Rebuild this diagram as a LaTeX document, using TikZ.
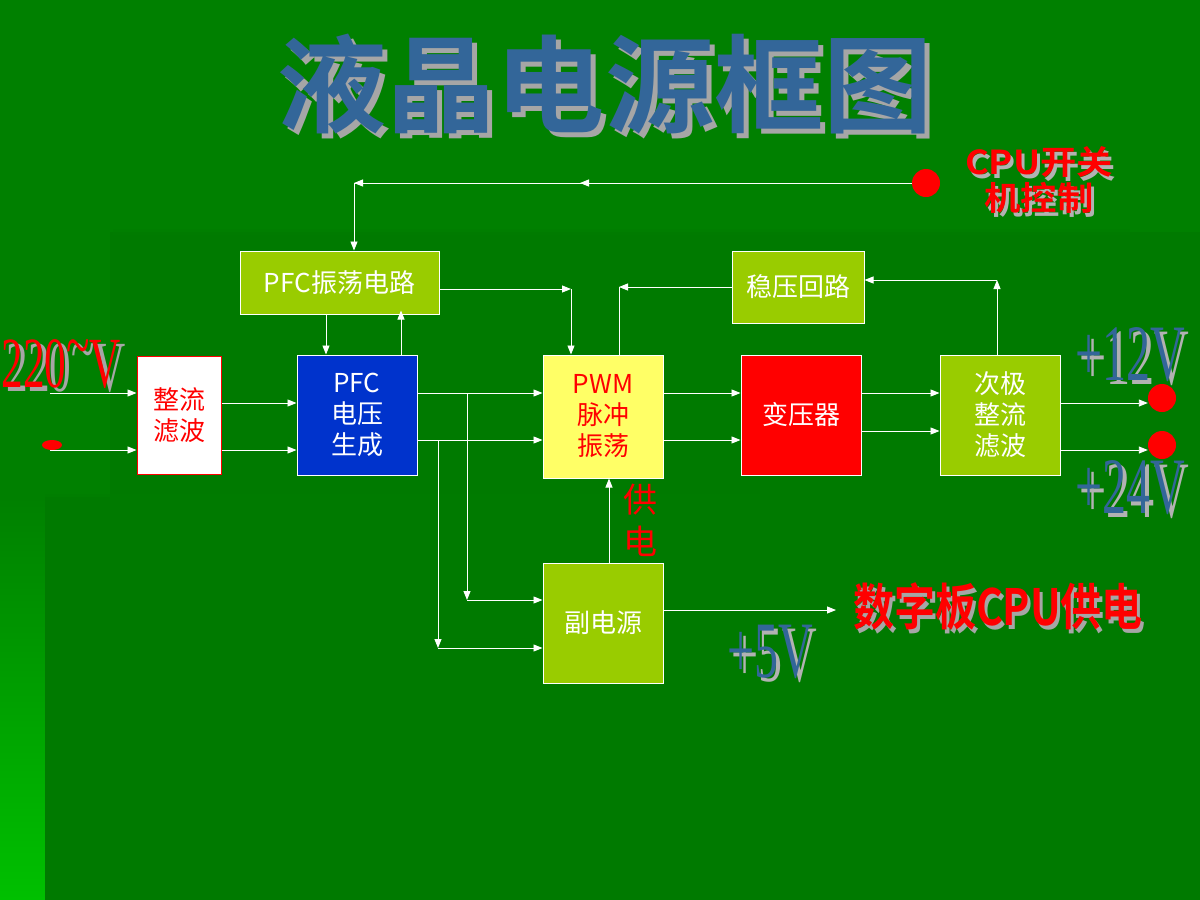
\documentclass[tikz,border=0pt]{standalone}
\usepackage{fontspec}
\setmainfont{Noto Sans CJK SC}
\newfontfamily\serif{Liberation Serif}
\newfontfamily\cjkb{Noto Sans CJK SC}[BoldFont={* Bold}]
\usetikzlibrary{arrows.meta}
\definecolor{bg}{HTML}{008000}
\definecolor{inner}{HTML}{007A00}
\definecolor{lime}{HTML}{99CC00}
\definecolor{pfcblue}{HTML}{0033CC}
\definecolor{pwmy}{HTML}{FFFF66}
\definecolor{steel}{HTML}{336699}
\definecolor{bright}{HTML}{00C000}
\begin{document}
\begin{tikzpicture}[x=1pt,y=-1pt,
  blk/.style={draw=white,line width=1pt,minimum width=120pt,minimum height=120pt,inner sep=0pt,font=\fontsize{26}{31}\selectfont,align=center,text=white},
  ar/.style={draw=white,line width=0.9pt,-{Triangle[length=9pt,width=7pt]}},
  ln/.style={draw=white,line width=0.9pt},
  dot/.style={circle,fill=red,minimum size=28pt,inner sep=0pt}]
\useasboundingbox (0,0) rectangle (1200,900);
\fill[bg] (0,0) rectangle (1200,900);
\shade[top color=bg,bottom color=bright] (0,497) rectangle (45,900);
\fill[inner] (110,232) rectangle (1200,900);
\fill[inner] (45,497) rectangle (110,900);
\fill[black!30!green!70!black,opacity=0.5] (113,229) rectangle (1130,235);
\fill[black!30!green!70!black,opacity=0.5] (45,494) rectangle (760,500);
% title
\tikzset{tf/.style={font=\cjkb\bfseries\fontsize{106}{110}\selectfont}}
\node[tf,text=gray!70] at (610,89) {\scalebox{1.03}[1]{液晶电源框图}};
\node[tf,text=steel] (title) at (605,84) {\scalebox{1.03}[1]{液晶电源框图}};
% boxes
\node[blk,fill=lime,minimum width=199pt,minimum height=63pt] (osc) at (339.5,282.5) {PFC振荡电路};
\node[blk,fill=lime,minimum width=132pt,minimum height=72pt] (reg) at (798,287) {稳压回路};
\node[blk,fill=white,draw=red,text=red,minimum width=84pt,minimum height=118pt] (rect) at (179,415) {整流\\滤波};
\node[blk,fill=pfcblue] (pfc) at (357,415) {PFC\\电压\\生成};
\node[blk,fill=pwmy,text=red,minimum height=123pt] (pwm) at (603,416.5) {PWM\\脉冲\\振荡};
\node[blk,fill=red] (tr) at (801,415) {变压器};
\node[blk,fill=lime] (sec) at (1000,415) {次极\\整流\\滤波};
\node[blk,fill=lime] (aux) at (603,623) {副电源};
% dots
\node[dot] (cpu) at (926,183) {};
\node[dot] (o12) at (1162,398) {};
\node[dot] (o24) at (1162,445) {};
\fill[red] (52,445) ellipse (10pt and 5pt);
\coordinate (inA) at (50,393);
\coordinate (inB) at (50,450);
% texts
\tikzset{cpuf/.style={align=center,font=\cjkb\bfseries\fontsize{33}{36}\selectfont}}
\node[cpuf,text=gray!60] at (1042,184) {\scalebox{1.1}[1]{CPU开关}\\\scalebox{1.1}[1]{机控制}};
\node[cpuf,text=red] (cpul) at (1039,180) {\scalebox{1.1}[1]{CPU开关}\\\scalebox{1.1}[1]{机控制}};
\tikzset{vf/.style={font=\serif\fontsize{72}{72}\selectfont}}
\node[vf,text=gray!70,anchor=west] at (3,368) {\scalebox{0.6}[1]{220\raisebox{18pt}{\textasciitilde}V}};
\node[vf,text=red,anchor=west] (v220) at (-2,364) {\scalebox{0.6}[1]{220\raisebox{18pt}{\textasciitilde}V}};
\foreach \t/\x/\y in {+12V/1130/355,+24V/1130/488,+5V/770/652}{
 \node[text=gray!60,font=\serif\fontsize{80}{80}\selectfont] at (\x+4,\y+4) {\scalebox{0.6}[1]{\t}};
 \node[text=steel,font=\serif\fontsize{80}{80}\selectfont] at (\x,\y) {\scalebox{0.6}[1]{\t}};}
\node[text=red,align=center,font=\fontsize{34}{42}\selectfont] (gd) at (640,520) {供\\电};
\node[text=gray!70,font=\cjkb\bfseries\fontsize{50}{54}\selectfont] at (1001,610) {\scalebox{0.82}[1]{数字板CPU供电}};
\node[text=red,font=\cjkb\bfseries\fontsize{50}{54}\selectfont] (dig) at (998,606) {\scalebox{0.82}[1]{数字板CPU供电}};
% connectors
\draw[ln] (cpu.west) -- (354,183);
\draw[ar] (cpu.west) -- (580,183);
\draw[ar] (580,183) -- (354,183);
\draw[ar] (354,183) -- (osc.north-|354,0);
\draw[ar] (osc.east|-0,289) -- (571,289);
\draw[ar] (571,289) -- (pwm.north-|571,0);
\draw[ar] (reg.west) -- (619,287);
\draw[ln] (619,287) -- (pwm.north-|619,0);
\draw[ar] (sec.north-|997,0) -- (997,280);
\draw[ar] (997,280) -- (reg.east|-0,280);
\draw[ar] (osc.south-|326,0) -- (pfc.north-|326,0);
\draw[ar] (pfc.north-|401,0) -- ([yshift=4pt]osc.south-|401,0);
\draw[ar] (inA) -- (rect.west|-inA);
\draw[ar] (inB) -- (rect.west|-inB);
\draw[ar] (rect.east|-0,403) -- (pfc.west|-0,403);
\draw[ar] (rect.east|-0,450) -- (pfc.west|-0,450);
\draw[ar] (pfc.east|-0,393) -- (pwm.west|-0,393);
\draw[ar] (pfc.east|-0,440) -- (pwm.west|-0,440);
\draw[ar] (467,393) -- (467,600);
\draw[ar] (467,600) -- (aux.west|-0,600);
\draw[ar] (438,440) -- (438,648);
\draw[ar] (438,648) -- (aux.west|-0,648);
\draw[ar] (pwm.east|-0,393) -- (tr.west|-0,393);
\draw[ar] (pwm.east|-0,440) -- (tr.west|-0,440);
\draw[ar] (tr.east|-0,393) -- (sec.west|-0,393);
\draw[ar] (tr.east|-0,431) -- (sec.west|-0,431);
\draw[ar] (sec.east|-0,403) -- (o12.west|-0,403);
\draw[ar] (sec.east|-0,450) -- (o24.west|-0,450);
\draw[ar] (aux.north-|609,0) -- (pwm.south-|609,0);
\draw[ar] (aux.east|-0,610) -- (836,610);
\end{tikzpicture}
\end{document}
